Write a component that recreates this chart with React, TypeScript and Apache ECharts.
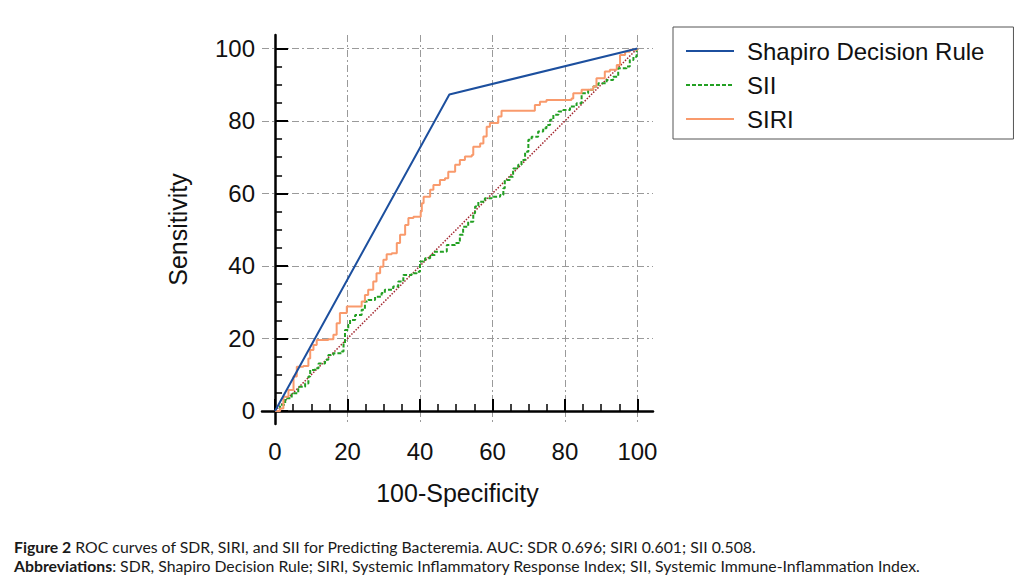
import React, { useEffect, useRef } from "react";
import * as echarts from "echarts";

const seriesNames = ["Shapiro Decision Rule", "SII", "SIRI"];
const majorTicks = [0, 20, 40, 60, 80, 100];
const minorTicks = [5, 10, 15, 25, 30, 35, 45, 50, 55, 65, 70, 75, 85, 90, 95];

const sdrPoints = [
  [0, 0],
  [48.1, 87.3],
  [100, 100],
];

const diagonalPoints = [
  [0, 0],
  [100, 100],
];

const siiPoints = [
  [0, 0], [1.4, 1.7], [2.8, 3.5], [4.6, 4.9], [6.4, 6.7], [8.3, 7.6], [9.2, 9.5], [9.7, 11.3],
  [11, 11.8], [12, 13.1], [13.8, 14.1], [14.7, 15.4], [16.1, 15.9], [18.4, 16.4], [18.9, 18.7],
  [19.3, 22.3], [20.2, 23.7], [20.7, 25.1], [22.1, 26.5], [23.9, 27.9], [24.8, 30.2], [25.7, 30.6],
  [27.6, 31.5], [29.4, 32.5], [30.3, 33.4], [32.6, 34.3], [34, 35.7], [35.4, 37.5], [37.7, 38],
  [39.1, 38.4], [40, 41.2], [41.4, 42.1], [42.8, 43], [44.1, 43.9], [46.4, 44], [47.4, 45.8],
  [49.7, 46.3], [51, 48.6], [51.9, 50.8], [53.3, 52.2], [54.7, 54.5], [55.2, 56.4], [56.1, 57.7],
  [57.9, 58.7], [59.8, 59.1], [62.1, 59.6], [63, 61.4], [63.4, 63.7], [64.8, 64.6], [65.7, 66.9],
  [67.1, 67.9], [68, 69.2], [69, 71.5], [69.9, 74.8], [70.8, 75.6], [72.6, 77.1], [74, 78],
  [74.9, 78.9], [75.9, 80.3], [76.8, 81.7], [78.2, 82.6], [79.5, 83], [81.4, 84], [83.2, 84.9],
  [84.6, 87.6], [86.4, 88.6], [87.8, 89.5], [89.2, 90.4], [91.5, 91.3], [93.3, 92.2], [94.7, 94.5],
  [97, 95], [97.9, 96.8], [98.9, 97.7], [99.8, 99.6], [100, 100],
];

const siriPoints = [
  [0, 0], [1.4, 0.7], [2.3, 3.9], [3.7, 5.8], [5.1, 9.5], [6, 12.2], [7.8, 12.4], [9.2, 14.5],
  [9.7, 16.8], [10.6, 18.2], [11.5, 19.6], [14.7, 19.8], [16.1, 21], [17, 24.2], [17.9, 27],
  [19.8, 28.8], [23.4, 28.8], [23.9, 30.2], [24.8, 32], [25.7, 33.4], [27.1, 35.7], [28, 38],
  [29, 39.8], [29.9, 41.7], [30.8, 43.2], [32.2, 43.5], [33.6, 46.3], [34.5, 48.6], [35.9, 51.3],
  [36.8, 53.2], [38.2, 53.6], [40.2, 55], [40.5, 57.3], [41, 59.1], [42.8, 61], [43.7, 62.3],
  [45.5, 63.7], [46.9, 64.2], [47.8, 66], [49.7, 67.9], [51, 69.2], [52.4, 70.2], [54.3, 70.6],
  [54.7, 72.9], [56.6, 73.8], [57.5, 75.7], [58.4, 78.4], [59.3, 79.4], [61.2, 79.4], [61.6, 81.2],
  [62.5, 82.8], [70.8, 82.8], [71.7, 84.4], [73.1, 85.3], [74.9, 85.8], [81.8, 86.2], [82.3, 87.6],
  [84.6, 88.6], [87.8, 89.5], [88.7, 91.8], [91, 93.6], [92.4, 94.1], [94.3, 95.4], [95.2, 98.2],
  [96.6, 99.1], [97.9, 99.6], [100, 100],
];

const captionLine1 = "{b|Figure 2} ROC curves of SDR, SIRI, and SII for Predicting Bacteremia. AUC: SDR 0.696; SIRI 0.601; SII 0.508.";
const captionLine2 = "{b|Abbreviations}: SDR, Shapiro Decision Rule; SIRI, Systemic Inflammatory Response Index; SII, Systemic Immune-Inflammation Index.";

const FONT = "'Liberation Sans', Arial, sans-serif";
const CAP_FONT = "Lato, 'Liberation Sans', sans-serif";
const CAP_SIZE = 15.8;

export default function App() {
  const ref = useRef<HTMLDivElement>(null);

  useEffect(() => {
    if (!ref.current) return;
    const chart = echarts.init(ref.current, null, { renderer: "svg" });
    const gridLine = { show: true, lineStyle: { color: "#9a9a9a", width: 1, type: [7, 3, 2, 3] } };
    const xBase = { type: "value", min: -3.6, max: 104.3, position: "bottom", gridIndex: 0 };
    const yBase = { type: "value", min: -3.6, max: 103.7, position: "left", gridIndex: 0 };
    const option: any = {
      animation: false,
      backgroundColor: "#ffffff",
      grid: { left: 262, top: 35, width: 391, height: 389, containLabel: false },
      legend: {
        orient: "vertical",
        left: 673,
        top: 27,
        padding: [12, 29, 8, 12],
        itemGap: 10,
        itemWidth: 48,
        itemHeight: 14,
        borderColor: "#555555",
        borderWidth: 1,
        data: seriesNames,
        itemStyle: { opacity: 0 },
        textStyle: { fontSize: 24, lineHeight: 24, fontFamily: FONT, color: "#111111", padding: [0, 0, 0, 8] },
      },
      xAxis: [
        {
          ...xBase,
          name: "100-Specificity",
          nameLocation: "middle",
          nameGap: 56,
          nameTextStyle: { fontSize: 25, fontFamily: FONT, color: "#111111" },
          axisLine: { show: true, lineStyle: { color: "#000000", width: 2.5 } },
          axisTick: { show: true, inside: true, length: 12, customValues: majorTicks, lineStyle: { color: "#000000", width: 2 } },
          axisLabel: { customValues: majorTicks, margin: 15, fontSize: 24, fontFamily: FONT, color: "#111111" },
          splitLine: gridLine,
        },
        {
          ...xBase,
          axisLine: { show: false },
          axisTick: { show: true, inside: true, length: 7, customValues: minorTicks, lineStyle: { color: "#000000", width: 1.5 } },
          axisLabel: { show: false },
          splitLine: { show: false },
        },
      ],
      yAxis: [
        {
          ...yBase,
          name: "Sensitivity",
          nameLocation: "middle",
          nameGap: 72,
          nameTextStyle: { fontSize: 25, fontFamily: FONT, color: "#111111" },
          axisLine: { show: true, lineStyle: { color: "#000000", width: 2.5 } },
          axisTick: { show: true, inside: true, length: 13, customValues: majorTicks, lineStyle: { color: "#000000", width: 2 } },
          axisLabel: { customValues: majorTicks, margin: 7, fontSize: 24, fontFamily: FONT, color: "#111111" },
          splitLine: gridLine,
        },
        {
          ...yBase,
          axisLine: { show: false },
          axisTick: { show: true, inside: true, length: 7, customValues: minorTicks, lineStyle: { color: "#000000", width: 1.5 } },
          axisLabel: { show: false },
          splitLine: { show: false },
        },
      ],
      series: [
        {
          name: "diagonal",
          type: "line",
          data: diagonalPoints,
          symbol: "none",
          silent: true,
          z: 1,
          lineStyle: { color: "#a3262e", width: 1.5, type: [1.5, 1.5] },
        },
        {
          name: seriesNames[1],
          type: "line",
          data: siiPoints,
          step: "end",
          symbol: "none",
          z: 2,
          itemStyle: { color: "#23a023" },
          lineStyle: { color: "#23a023", width: 2, type: [4, 2] },
        },
        {
          name: seriesNames[2],
          type: "line",
          data: siriPoints,
          step: "end",
          symbol: "none",
          z: 3,
          itemStyle: { color: "#f99a6c" },
          lineStyle: { color: "#f99a6c", width: 2 },
        },
        {
          name: seriesNames[0],
          type: "line",
          data: sdrPoints,
          symbol: "none",
          z: 4,
          itemStyle: { color: "#1c4f9e" },
          lineStyle: { color: "#1c4f9e", width: 2 },
        },
      ],
      graphic: [
        {
          type: "text",
          left: 14,
          top: 538,
          style: {
            text: captionLine1,
            fontSize: CAP_SIZE,
            fontFamily: CAP_FONT,
            fill: "#1a1a1a",
            rich: { b: { fontWeight: "bold", fontSize: CAP_SIZE, fontFamily: CAP_FONT, fill: "#1a1a1a" } },
          },
        },
        {
          type: "text",
          left: 14,
          top: 557,
          style: {
            text: captionLine2,
            fontSize: CAP_SIZE,
            fontFamily: CAP_FONT,
            fill: "#1a1a1a",
            rich: { b: { fontWeight: "bold", fontSize: CAP_SIZE, fontFamily: CAP_FONT, fill: "#1a1a1a" } },
          },
        },
      ],
    };
    chart.setOption(option);
    return () => chart.dispose();
  }, []);

  return (
    <div
      ref={ref}
      style={{ position: "fixed", left: 0, top: 0, width: 1024, height: 583, background: "#ffffff" }}
    />
  );
}
